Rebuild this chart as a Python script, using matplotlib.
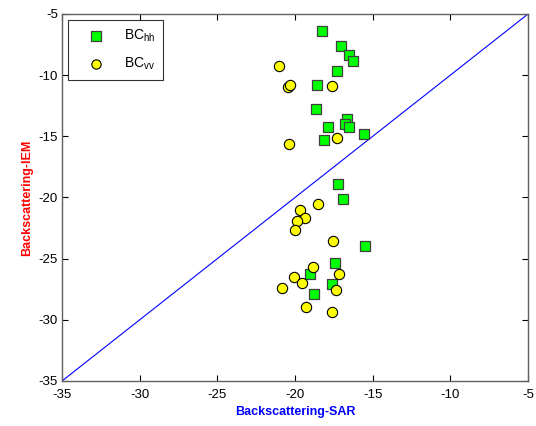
import matplotlib
matplotlib.use("Agg")
import matplotlib.pyplot as plt
import numpy as np

plt.rcParams['font.family'] = ['Liberation Sans', 'DejaVu Sans']
plt.rcParams['axes.unicode_minus'] = False

hh_x = [-18.26, -17.02, -16.50, -16.24, -17.29, -18.60, -18.67, -16.67, -16.76, -16.52,
        -17.85, -15.53, -18.11, -17.23, -16.88, -15.47, -17.42, -19.03, -17.63, -18.75]
hh_y = [-6.39, -7.62, -8.39, -8.85, -9.65, -10.80, -12.76, -13.58, -14.02, -14.24,
        -14.24, -14.84, -15.30, -18.91, -20.16, -23.93, -25.35, -26.25, -27.10, -27.90]

vv_x = [-21.03, -20.47, -20.32, -17.63, -20.38, -17.29, -18.54, -19.65, -19.35, -19.85,
        -20.00, -17.57, -18.81, -17.14, -20.06, -19.57, -17.34, -20.83, -19.29, -17.63]
vv_y = [-9.29, -10.96, -10.82, -10.87, -15.66, -15.14, -20.52, -21.04, -21.67, -21.91,
        -22.65, -23.52, -25.68, -26.23, -26.48, -27.02, -27.57, -27.40, -28.99, -29.40]

line_x = [-35, -5]
line_y = [-35, -5]

fig = plt.figure(figsize=(5.36, 4.26), dpi=100)
ax = fig.add_axes([62/536, 1 - 381/426, (528-62)/536, (381-14)/426])

ax.plot(line_x, line_y, color='#0000ff', lw=0.8, zorder=1)
ax.scatter(hh_x, hh_y, marker='s', s=55, facecolor='#00ff00', edgecolor='#404040',
           linewidths=0.9, label='BC$_{\\mathregular{hh}}$', zorder=3)
ax.scatter(vv_x, vv_y, marker='o', s=55, facecolor='#ffff00', edgecolor='#000000',
           linewidths=0.8, label='BC$_{\\mathregular{vv}}$', zorder=3)

ax.set_xlim(-35, -5)
ax.set_ylim(-35, -5)
ax.set_xticks(np.arange(-35, -4, 5))
ax.set_yticks(np.arange(-35, -4, 5))
ax.tick_params(direction='in', top=True, right=True, length=4, width=0.8,
               colors='#000000', labelsize=9.5)
ax.tick_params(axis='x', pad=6)
ax.tick_params(axis='y', pad=3)
for s in ax.spines.values():
    s.set_color('#606060')
    s.set_linewidth(1.0)

ax.set_xlabel('Backscattering-SAR', color='#0000ff', fontweight='bold', fontsize=9, labelpad=3)
ax.set_ylabel('Backscattering-IEM', color='#ff0000', fontweight='bold', fontsize=9, labelpad=4)

leg = ax.legend(loc='upper left', bbox_to_anchor=(68/536, 1 - 20/426),
                bbox_transform=fig.transFigure, borderaxespad=0, fontsize=10,
                frameon=True, fancybox=False, edgecolor='black', borderpad=0.55,
                labelspacing=0.85, handlelength=3.0, handletextpad=0.5, markerscale=0.9)
leg.get_frame().set_linewidth(0.8)

fig.savefig('out.png', dpi=100, facecolor='white')
